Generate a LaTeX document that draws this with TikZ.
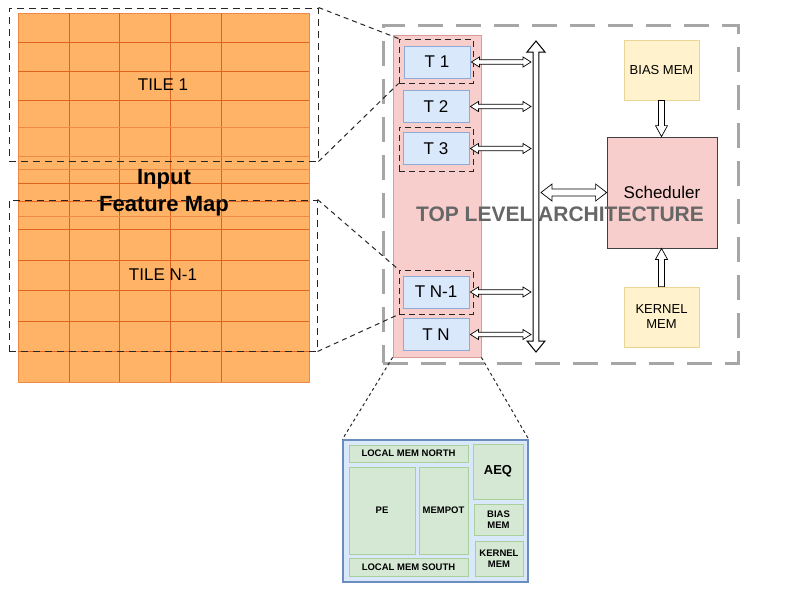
\documentclass[tikz,border=0pt]{standalone}
\usepackage{fontspec}
\setmainfont{Liberation Sans}
\usetikzlibrary{calc}
\definecolor{orfill}{HTML}{FFB366}
\definecolor{orline}{HTML}{DF6420}
\definecolor{orlight}{HTML}{EE8A45}
\definecolor{pinkfill}{HTML}{F8CECC}
\definecolor{pinkline}{HTML}{D99A98}
\definecolor{bluefill}{HTML}{DAE8FC}
\definecolor{blueline}{HTML}{8EAAD6}
\definecolor{bluedark}{HTML}{6C8EBF}
\definecolor{yelfill}{HTML}{FFF2CC}
\definecolor{yelline}{HTML}{EAD596}
\definecolor{grnfill}{HTML}{D5E8D4}
\definecolor{grnline}{HTML}{A9CF9A}
\definecolor{graydash}{HTML}{A6A6A6}
\definecolor{archtext}{HTML}{666666}
\newcommand\hdarrow[5]{%
 \draw[hollow] let \p1=(#1), \p2=(#2) in
 (\x1,\y1) -- (\x1+#5pt,\y1+#4pt) -- (\x1+#5pt,\y1+#3pt) -- (\x2-#5pt,\y1+#3pt) -- (\x2-#5pt,\y1+#4pt) -- (\x2,\y1)
 -- (\x2-#5pt,\y1-#4pt) -- (\x2-#5pt,\y1-#3pt) -- (\x1+#5pt,\y1-#3pt) -- (\x1+#5pt,\y1-#4pt) -- cycle;}
\newcommand\vdarrow[5]{%
 \draw[hollow,line width=1pt] let \p1=(#1), \p2=(#2) in
 (\x1,\y1) -- (\x1+#4pt,\y1-#5pt) -- (\x1+#3pt,\y1-#5pt) -- (\x1+#3pt,\y2+#5pt) -- (\x1+#4pt,\y2+#5pt) -- (\x1,\y2)
 -- (\x1-#4pt,\y2+#5pt) -- (\x1-#3pt,\y2+#5pt) -- (\x1-#3pt,\y1-#5pt) -- (\x1-#4pt,\y1-#5pt) -- cycle;}
\newcommand\downarrowhollow[5]{%
 \draw[hollow] let \p1=(#1), \p2=(#2) in
 (\x1-#3pt,\y1) -- (\x1+#3pt,\y1) -- (\x1+#3pt,\y2+#5pt) -- (\x1+#4pt,\y2+#5pt) -- (\x1,\y2)
 -- (\x1-#4pt,\y2+#5pt) -- (\x1-#3pt,\y2+#5pt) -- cycle;}
\newcommand\uparrowhollow[5]{%
 \draw[hollow] let \p1=(#1), \p2=(#2) in
 (\x1-#3pt,\y1) -- (\x1+#3pt,\y1) -- (\x1+#3pt,\y2-#5pt) -- (\x1+#4pt,\y2-#5pt) -- (\x1,\y2)
 -- (\x1-#4pt,\y2-#5pt) -- (\x1-#3pt,\y2-#5pt) -- cycle;}
\begin{document}
\begin{tikzpicture}[x=1pt,y=-1pt,
  box/.style={rectangle,inner sep=0pt,line width=0.8pt},
  tbox/.style={box,draw=blueline,fill=bluefill,minimum width=66pt,minimum height=32pt,font=\fontsize{17}{20}\selectfont},
  tdash/.style={box,draw=black!85,dash pattern=on 6pt off 4pt,line width=1pt,minimum width=74pt,minimum height=44pt},
  tiledash/.style={box,draw=black!85,dash pattern=on 7pt off 5pt,line width=1pt},
  ymem/.style={box,draw=yelline,fill=yelfill,minimum width=75pt,minimum height=60pt,align=center,font=\fontsize{13}{15}\selectfont},
  gbox/.style={box,draw=grnline,fill=grnfill,align=center,font=\fontsize{9.5}{11.5}\selectfont\bfseries},
  grid/.style={draw=orline,line width=0.8pt},
  gridl/.style={draw=orlight,line width=1pt},
  link/.style={draw=black!85,line width=1pt,dash pattern=on 5pt off 4pt},
  zoomlink/.style={draw=black!85,line width=1pt,dash pattern=on 3pt off 3pt},
  hollow/.style={draw=black,fill=white,line width=0.7pt,line join=miter}]
\useasboundingbox (0,0) rectangle (794,595);

% input feature map
\node[box,draw=orlight,fill=orfill,minimum width=291pt,minimum height=369pt] (ifm) at (163.5,197.5) {};
\foreach \xx in {69,119,170,221} \draw[grid] (\xx,13) -- (\xx,382);
\foreach \yy in {42,71,100,183,201,229,260,290,321,351} \draw[grid] (18,\yy) -- (309,\yy);
\foreach \yy in {127,156,169,216} \draw[gridl] (18,\yy) -- (309,\yy);
\node[font=\fontsize{17}{20}\selectfont] (tile1lbl) at (163,85) {TILE 1};
\node[font=\fontsize{17}{20}\selectfont] (tilen1lbl) at (163,275) {TILE N-1};
\node[align=center,font=\fontsize{22}{27}\selectfont\bfseries] (ifmlbl) at (164,192.5) {Input\\Feature Map};
\node[tiledash,minimum width=309pt,minimum height=153pt] (tileA) at (163.5,84.5) {};
\node[tiledash,minimum width=308pt,minimum height=151pt] (tileB) at (163,275.5) {};

% top level architecture frame
\node[box,draw=graydash,line width=3pt,dash pattern=on 25pt off 13pt,minimum width=355pt,minimum height=338pt] (frame) at (560.5,194) {};

% tile column
\node[box,draw=pinkline,fill=pinkfill,minimum width=88pt,minimum height=322pt] (col) at (437,196) {};
\node[tbox] (t1) at (437,62) {T 1};
\node[tbox] (t2) at (436,106.5) {T 2};
\node[tbox] (t3) at (436,148.5) {T 3};
\node[tbox] (tn1) at (436,292) {T N-1};
\node[tbox] (tn) at (436,334.5) {T N};
\node[tdash] (d1) at (436,61) {};
\node[tdash] (d3) at (436,149) {};
\node[tdash] (dn1) at (436,292) {};

% links from tiles of the map to the tile processors
\draw[link] (tileA.north east) -- (d1.north west);
\draw[link] (tileA.south east) -- (d1.south west);
\draw[link] (tileB.north east) -- (dn1.north west);
\draw[link] (tileB.south east) -- (dn1.south west);

% memories and scheduler
\node[ymem] (biasmem) at (661.5,70) {BIAS MEM};
\node[ymem] (kernmem) at (661.5,317) {KERNEL\\MEM};
\node[box,draw=black!75,fill=pinkfill,minimum width=110pt,minimum height=111pt,font=\fontsize{17}{20}\selectfont] (sched) at (662,192.5) {Scheduler};

\node[font=\fontsize{21}{25}\selectfont\bfseries,text=archtext] (archlbl) at (560,214) {TOP LEVEL ARCHITECTURE};

% bus
\coordinate (busTop) at (536,41);
\coordinate (busBot) at (536,352);
\coordinate (busL) at (531,0);
\coordinate (busR) at (541,0);
\vdarrow{busTop}{busBot}{2.8}{9}{11}
\foreach \t in {t1,t2,t3,tn1,tn} {\hdarrow{$(\t.east)+(1,0)$}{\t.east -| busL}{2.3}{5}{8}}
\hdarrow{sched.west -| busR}{sched.west}{3.5}{8.5}{11}
\downarrowhollow{biasmem.south}{sched.north}{3}{6}{11}
\uparrowhollow{kernmem.north}{sched.south}{3}{6}{11}

% tile detail
\node[box,draw=bluedark,fill=bluefill,line width=1.3pt,minimum width=185pt,minimum height=142pt] (detail) at (435.5,511) {};
\node[gbox,minimum width=119pt,minimum height=17pt] (lmn) at (408.5,453.5) {LOCAL MEM NORTH};
\node[gbox,minimum width=66pt,minimum height=87pt] (pe) at (382,510.5) {PE};
\node[gbox,minimum width=49pt,minimum height=87pt] (mempot) at (443.5,510.5) {MEMPOT};
\node[gbox,minimum width=119pt,minimum height=18pt] (lms) at (408.5,567) {LOCAL MEM SOUTH};
\node[gbox,minimum width=50pt,minimum height=55pt,font=\fontsize{13}{15}\selectfont\bfseries] (aeq) at (498,471.5) {AEQ};
\node[gbox,minimum width=49pt,minimum height=31pt] (lbias) at (498.5,519.5) {BIAS\\MEM};
\node[gbox,minimum width=48pt,minimum height=35pt] (lkern) at (499,558.5) {KERNEL\\MEM};
\draw[zoomlink] (col.south west) -- (detail.north west);
\draw[zoomlink] (col.south east) -- (detail.north east);
\end{tikzpicture}
\end{document}
